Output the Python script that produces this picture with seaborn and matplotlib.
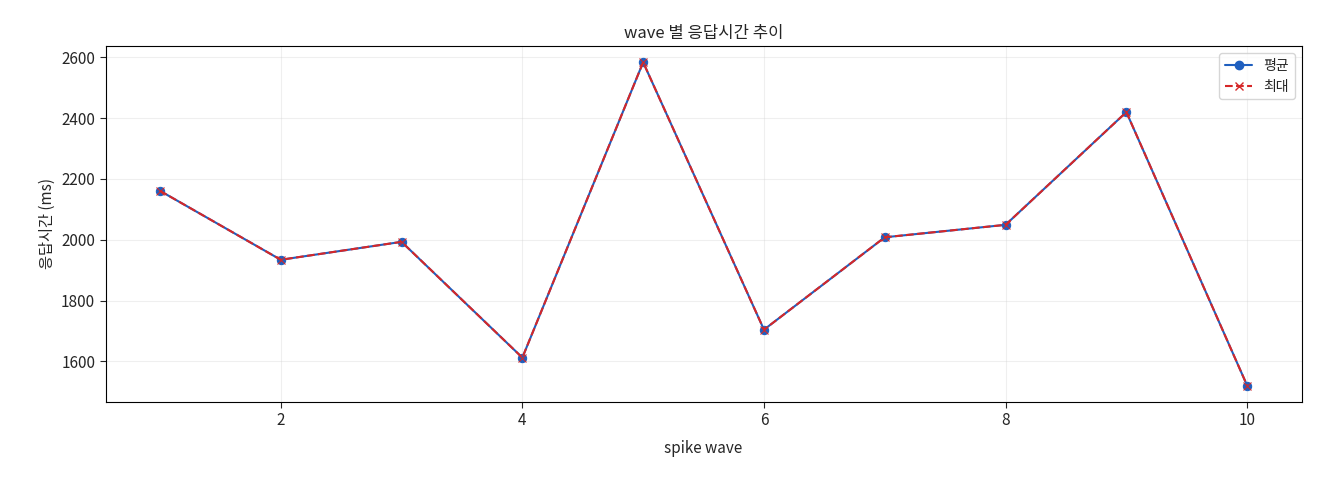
import matplotlib
matplotlib.use("Agg")
import matplotlib.pyplot as plt
from matplotlib.lines import Line2D
import seaborn as sns
import pandas as pd

waves = [1, 2, 3, 4, 5, 6, 7, 8, 9, 10]
avg_ms = [2161, 1934, 1993, 1612, 2584, 1704, 2008, 2049, 2420, 1520]
max_ms = [2161, 1934, 1993, 1612, 2584, 1704, 2008, 2049, 2420, 1520]

sns.set_style("white")
plt.rcParams['font.family'] = ['Noto Sans CJK KR', 'DejaVu Sans']
plt.rcParams['axes.unicode_minus'] = False

fig, ax = plt.subplots(figsize=(13.2, 4.8), dpi=100)
fig.subplots_adjust(left=0.08, right=0.986, top=0.904, bottom=0.163)

blue = "#1f5fbf"; red = "#d62728"
df = pd.DataFrame({"wave": waves, "avg": avg_ms, "max": max_ms})
sns.lineplot(data=df, x="wave", y="avg", ax=ax, color=blue, marker="o",
             markersize=6, markeredgecolor=blue, linewidth=1.5, legend=False)
sns.lineplot(data=df, x="wave", y="max", ax=ax, color=red, marker="x",
             markersize=6, markeredgecolor=red, linewidth=1.5, legend=False)
ax.lines[-1].set_linestyle("--")

ax.set_title("wave 별 응답시간 추이", fontsize=12)
ax.set_xlabel("spike wave", fontsize=11, labelpad=8)
ax.set_ylabel("응답시간 (ms)", fontsize=11)
ax.grid(True, alpha=0.3)
for s in ax.spines.values():
    s.set_color("black"); s.set_linewidth(0.8)
ax.tick_params(axis="both", labelsize=11, length=4, left=True, bottom=True)
handles = [Line2D([], [], color=blue, marker="o", markersize=6, linewidth=1.5),
           Line2D([], [], color=red, marker="x", markersize=6, linewidth=1.5, linestyle="--")]
ax.legend(handles, ["평균", "최대"], loc="upper right", fontsize=10)
fig.savefig("out.png", dpi=100)
